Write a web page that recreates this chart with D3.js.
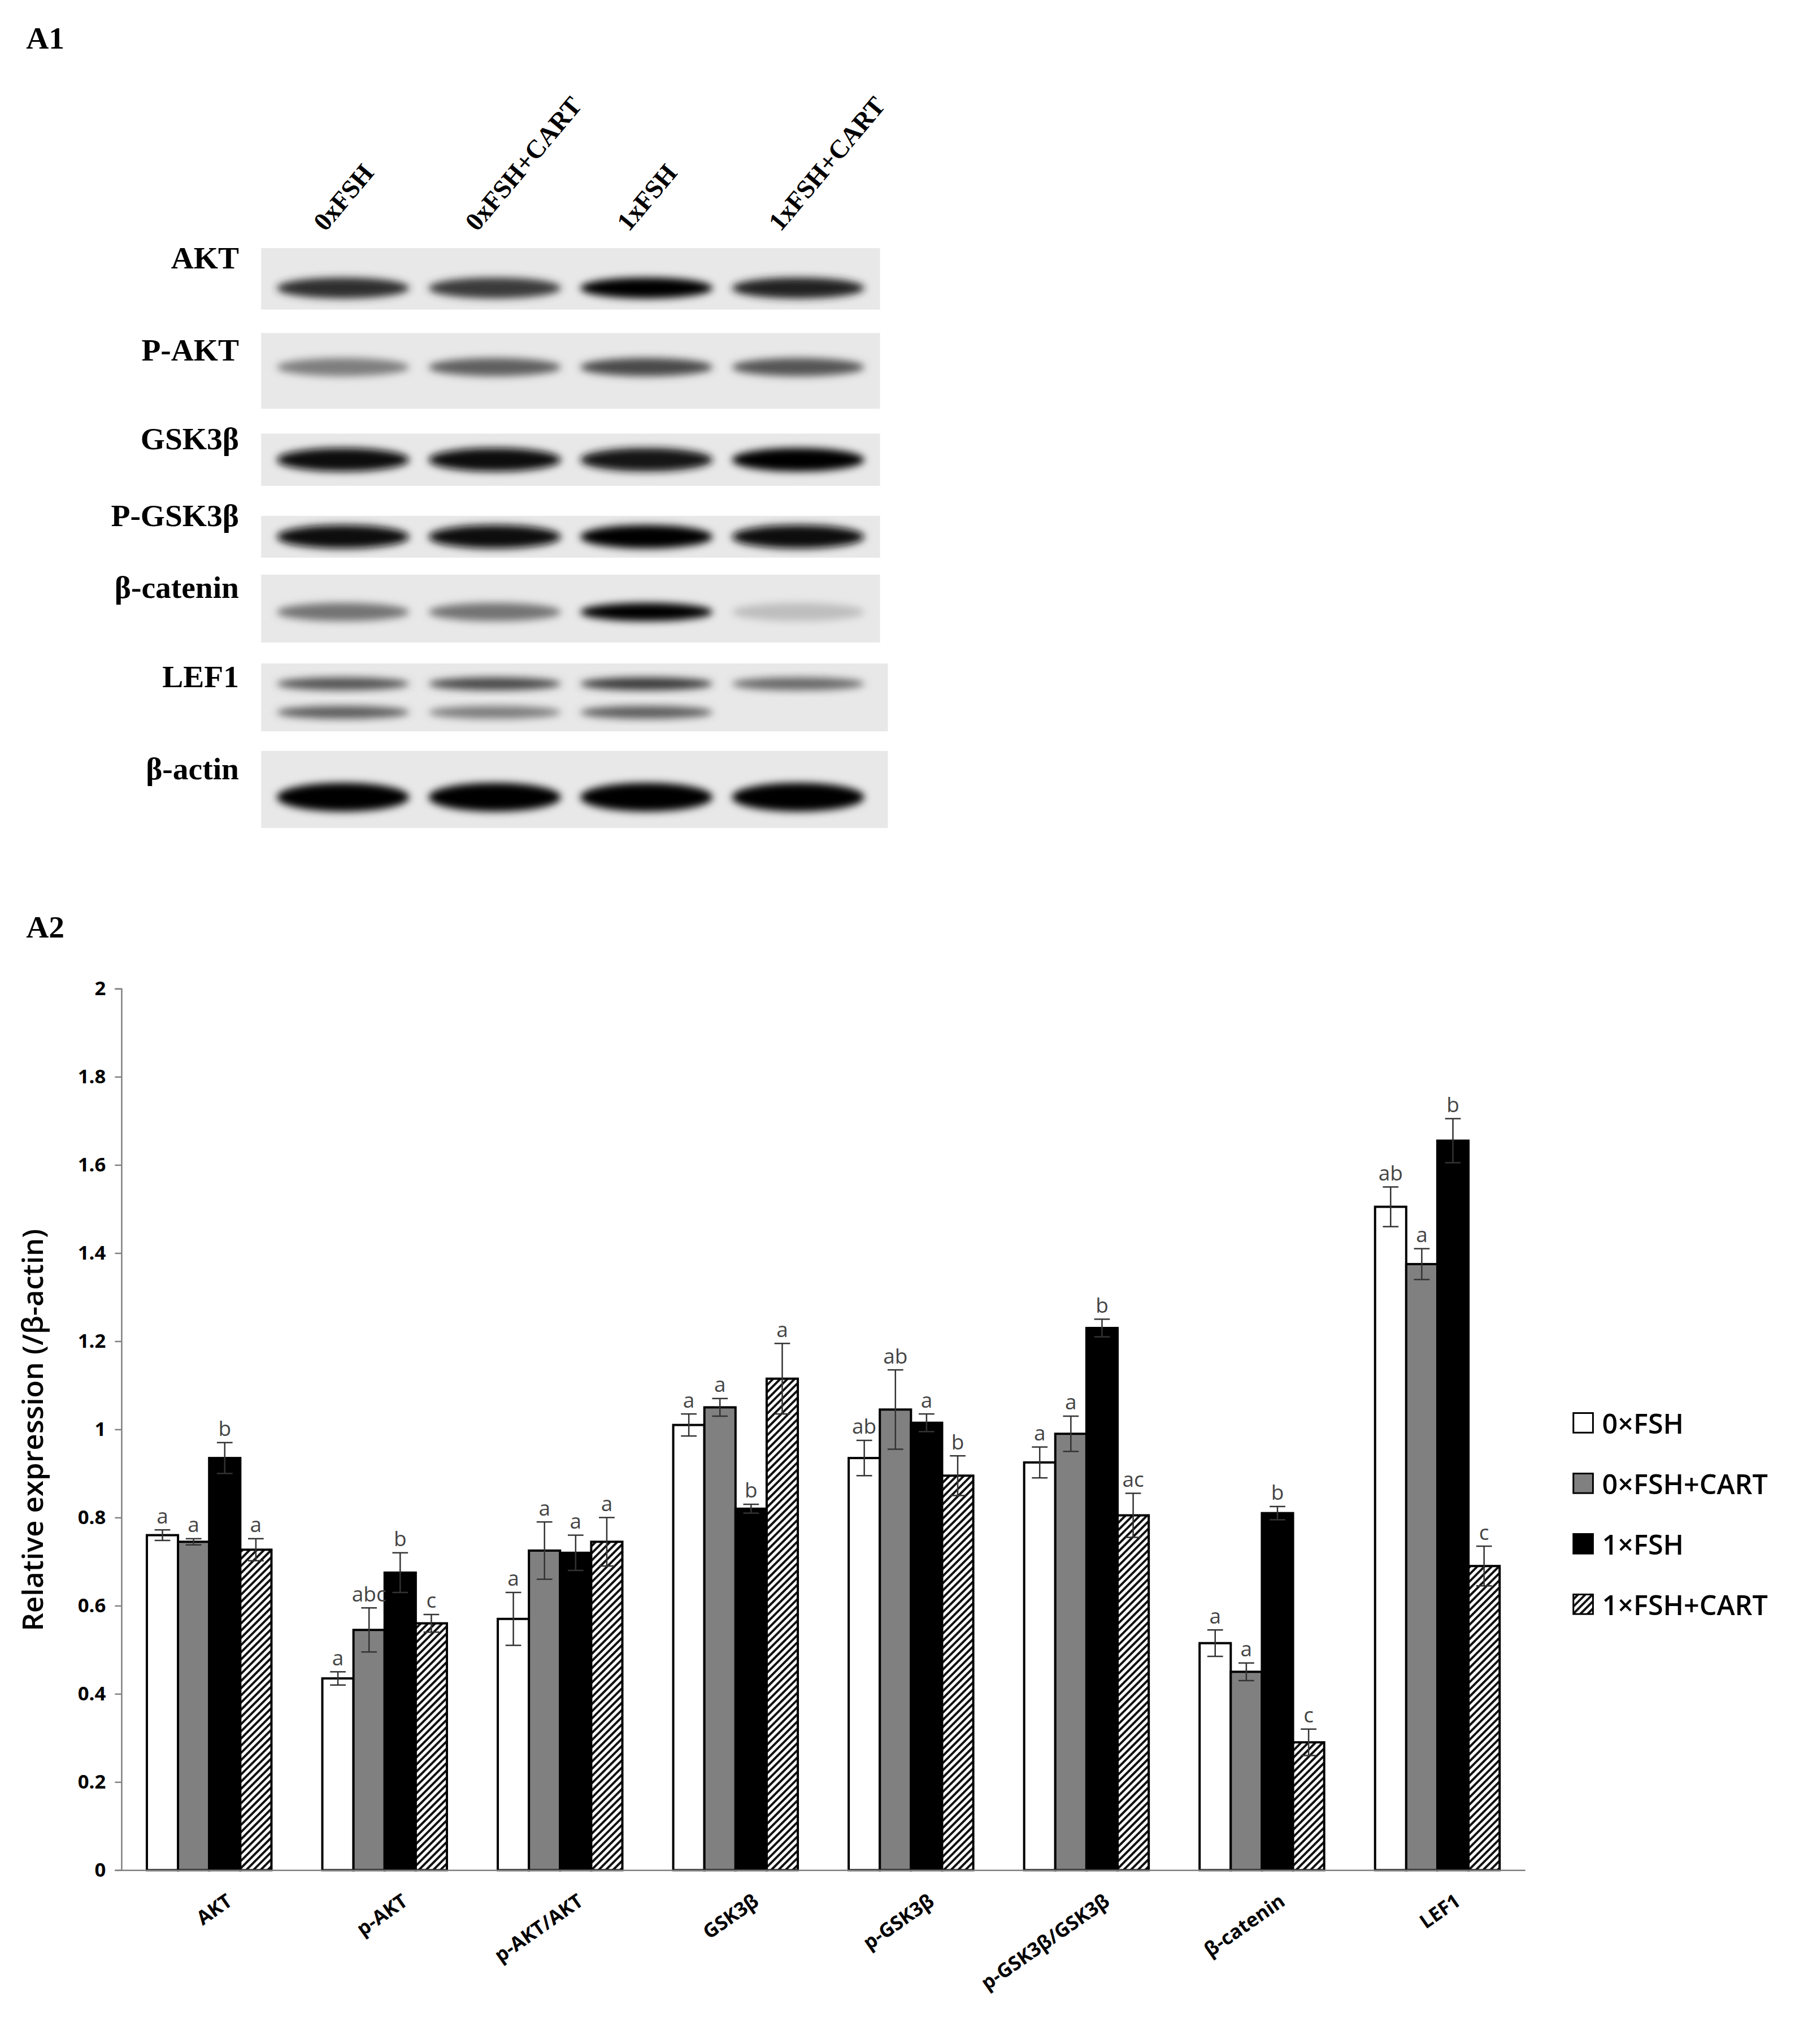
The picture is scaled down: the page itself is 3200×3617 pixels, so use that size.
<!DOCTYPE html>
<html>
<head>
<meta charset="utf-8">
<script src="https://cdn.jsdelivr.net/npm/d3@7"></script>
<style>
  body { margin: 0; background: #fff; }
  .serif { font-family: "Liberation Serif", "DejaVu Serif", serif; font-weight: bold; }
  .sans { font-family: "Open Sans", "Noto Sans", sans-serif; }
</style>
</head>
<body>
<div id="fig"></div>
<script>
(function () {
	'use strict';

	// ---- data ----
	var lanes = ['0xFSH', '0xFSH+CART', '1xFSH', '1xFSH+CART'];
	var blotRows = ['AKT', 'P-AKT', 'GSK3β', 'P-GSK3β', 'β-catenin', 'LEF1', 'β-actin'];
	// band darkness 0..1 per lane
	var bandAKT = [0.8, 0.75, 0.98, 0.85];
	var bandPAKT = [0.45, 0.6, 0.7, 0.65];
	var bandGSK = [0.95, 0.95, 0.9, 1.0];
	var bandPGSK = [0.95, 0.95, 0.98, 0.95];
	var bandCat = [0.5, 0.5, 1.0, 0.15];
	var bandLEFup = [0.65, 0.7, 0.75, 0.55];
	var bandLEFlow = [0.6, 0.45, 0.6, 0.0];
	var bandActin = [0.98, 0.98, 0.98, 1.0];

	var categories = ['AKT', 'p-AKT', 'p-AKT/AKT', 'GSK3β', 'p-GSK3β', 'p-GSK3β/GSK3β', 'β-catenin', 'LEF1'];
	var groups = ['0×FSH', '0×FSH+CART', '1×FSH', '1×FSH+CART'];
	var mean0 = [0.76, 0.435, 0.57, 1.01, 0.935, 0.925, 0.515, 1.505];
	var mean1 = [0.745, 0.545, 0.725, 1.05, 1.045, 0.99, 0.45, 1.375];
	var mean2 = [0.935, 0.675, 0.72, 0.82, 1.015, 1.23, 0.81, 1.655];
	var mean3 = [0.727, 0.56, 0.745, 1.115, 0.895, 0.805, 0.29, 0.69];
	var err0 = [0.012, 0.015, 0.06, 0.025, 0.04, 0.035, 0.03, 0.045];
	var err1 = [0.007, 0.05, 0.065, 0.02, 0.09, 0.04, 0.02, 0.035];
	var err2 = [0.035, 0.045, 0.04, 0.01, 0.02, 0.02, 0.015, 0.05];
	var err3 = [0.025, 0.02, 0.055, 0.08, 0.045, 0.05, 0.03, 0.045];
	var let0 = ['a', 'a', 'a', 'a', 'ab', 'a', 'a', 'ab'];
	var let1 = ['a', 'abc', 'a', 'a', 'ab', 'a', 'a', 'a'];
	var let2 = ['b', 'b', 'a', 'b', 'a', 'b', 'b', 'b'];
	var let3 = ['a', 'c', 'a', 'a', 'b', 'ac', 'c', 'c'];
	var yTicks = [0, 0.2, 0.4, 0.6, 0.8, 1, 1.2, 1.4, 1.6, 1.8, 2];

	var S = 2.311;
	var W = 3200, H = 3617;
	var svg = d3.select('#fig').append('svg').attr('width', W).attr('height', H);
	var defs = svg.append('defs');
	defs.append('filter').attr('id', 'blur').attr('x', '-20%').attr('y', '-50%').attr('width', '140%').attr('height', '200%')
		.append('feGaussianBlur').attr('stdDeviation', 7);
	var pat = defs.append('pattern').attr('id', 'hatch').attr('patternUnits', 'userSpaceOnUse')
		.attr('width', 9).attr('height', 9).attr('patternTransform', 'rotate(45)');
	pat.append('rect').attr('width', 9).attr('height', 9).attr('fill', '#fff');
	pat.append('rect').attr('width', 4).attr('height', 9).attr('fill', '#111');

	// ---- A1: blot ----
	svg.append('text').attr('class', 'serif').attr('x', 20 * S).attr('y', 37 * S)
		.attr('font-size', 24 * S).text('A1');

	var laneX = d3.scaleBand().domain(lanes).range([200 * S, 674 * S]).padding(0.08);
	var boxes = [[190, 237], [255, 313], [332, 372], [395, 427], [440, 492], [508, 560], [575, 634]];
	var bands = [[bandAKT], [bandPAKT], [bandGSK], [bandPGSK], [bandCat], [bandLEFup, bandLEFlow], [bandActin]];
	var bandY = [[0.65], [0.45], [0.5], [0.5], [0.55], [0.3, 0.72], [0.6]];
	var bandH = [[16], [14], [18], [18], [14], [10, 10], [22]];

	svg.append('g').selectAll('text').data(lanes).join('text')
		.attr('class', 'serif').attr('font-size', 20 * S)
		.attr('transform', function (d) { return 'translate(' + (laneX(d) + 40 * S) + ',' + (178 * S) + ') rotate(-50)'; })
		.text(function (d) { return d; });

	blotRows.forEach(function (name, i) {
		var y0 = boxes[i][0] * S, y1 = boxes[i][1] * S;
		var g = svg.append('g');
		g.append('rect').attr('x', 200 * S).attr('y', y0).attr('width', (i >= 5 ? 480 : 474) * S)
			.attr('height', y1 - y0).attr('fill', '#e8e8e8');
		bands[i].forEach(function (arr, k) {
			var cy = y0 + (y1 - y0) * bandY[i][k];
			g.selectAll('ellipse.b' + k).data(arr).join('ellipse')
				.attr('cx', function (d, j) { return laneX(lanes[j]) + laneX.bandwidth() / 2; })
				.attr('cy', cy)
				.attr('rx', laneX.bandwidth() / 2 * 0.95)
				.attr('ry', bandH[i][k] * S / 2)
				.attr('fill', function (d) { return d3.interpolateGreys(0.25 + 0.75 * d); })
				.attr('opacity', function (d) { return d === 0 ? 0 : 1; })
				.attr('filter', 'url(#blur)');
		});
		svg.append('text').attr('class', 'serif').attr('font-size', 24 * S)
			.attr('x', 183 * S).attr('y', (y0 + y1) / 2 - 8 * S).attr('text-anchor', 'end')
			.text(name);
	});

	// ---- A2: bar chart ----
	svg.append('text').attr('class', 'serif').attr('x', 20 * S).attr('y', 718 * S)
		.attr('font-size', 24 * S).text('A2');

	var left = 93 * S, right = 1168 * S, top = 757 * S, bottom = 1432 * S;
	var x = d3.scaleBand().domain(categories).range([left, right]).paddingInner(0.29).paddingOuter(0.145);
	var xs = d3.scaleBand().domain(d3.range(4)).range([0, x.bandwidth()]);
	var y = d3.scaleLinear().domain([0, 2]).range([bottom, top]);

	var yAxis = svg.append('g').attr('transform', 'translate(' + left + ',0)')
		.call(d3.axisLeft(y).tickValues(yTicks).tickSize(5 * S).tickFormat(function (d) { return String(d); }));
	yAxis.select('.domain').attr('stroke', '#808080').attr('stroke-width', 2.5);
	yAxis.selectAll('.tick line').attr('stroke', '#808080').attr('stroke-width', 2.5);
	yAxis.selectAll('.tick text').attr('class', 'sans').attr('font-size', 15 * S).attr('font-weight', 'bold')
		.attr('fill', '#000').attr('x', -12 * S);

	svg.append('text').attr('class', 'sans').attr('font-size', 22 * S).attr('font-weight', 600)
		.attr('transform', 'translate(' + (33 * S) + ',' + (1095 * S) + ') rotate(-90)')
		.attr('text-anchor', 'middle').text('Relative expression (/β-actin)');

	var means = [mean0, mean1, mean2, mean3];
	var errs = [err0, err1, err2, err3];
	var lets = [let0, let1, let2, let3];
	var fills = ['#fff', '#808080', '#000', 'url(#hatch)'];

	var rows = [];
	categories.forEach(function (c, ci) {
		for (var s = 0; s < 4; s++) {
			rows.push({ c: c, s: s, v: means[s][ci], e: errs[s][ci], l: lets[s][ci] });
		}
	});
	var bx = function (d) { return x(d.c) + xs(d.s); };

	svg.append('g').selectAll('rect').data(rows).join('rect')
		.attr('x', bx).attr('y', function (d) { return y(d.v); })
		.attr('width', xs.bandwidth()).attr('height', function (d) { return bottom - y(d.v); })
		.attr('fill', function (d) { return fills[d.s]; })
		.attr('stroke', '#000').attr('stroke-width', 4);

	var eb = svg.append('g').attr('stroke', '#333').attr('stroke-width', 2.5);
	var cx = function (d) { return bx(d) + xs.bandwidth() / 2; };
	eb.selectAll('line.v').data(rows).join('line').attr('class', 'v')
		.attr('x1', cx).attr('x2', cx)
		.attr('y1', function (d) { return y(d.v - d.e); }).attr('y2', function (d) { return y(d.v + d.e); });
	[1, -1].forEach(function (sg, k) {
		eb.selectAll('line.c' + k).data(rows).join('line').attr('class', 'c' + k)
			.attr('x1', function (d) { return cx(d) - 6 * S; }).attr('x2', function (d) { return cx(d) + 6 * S; })
			.attr('y1', function (d) { return y(d.v + sg * d.e); }).attr('y2', function (d) { return y(d.v + sg * d.e); });
	});

	svg.append('g').selectAll('text').data(rows).join('text')
		.attr('class', 'sans').attr('font-size', 16 * S).attr('fill', '#444').attr('text-anchor', 'middle')
		.attr('x', cx).attr('y', function (d) { return y(d.v + d.e) - 5 * S; })
		.text(function (d) { return d.l; });

	var xAxis = svg.append('g').attr('transform', 'translate(0,' + bottom + ')')
		.call(d3.axisBottom(x).tickSize(0));
	xAxis.select('.domain').attr('stroke', '#808080').attr('stroke-width', 2.5);
	xAxis.selectAll('.tick text').attr('class', 'sans').attr('font-size', 15 * S).attr('font-weight', 'bold')
		.attr('fill', '#000').attr('text-anchor', 'end').attr('dy', 0)
		.attr('transform', 'translate(' + (18 * S) + ',' + (25 * S) + ') rotate(-35)');

	// legend
	var lg = svg.append('g').selectAll('g').data(groups).join('g')
		.attr('transform', function (d, i) { return 'translate(' + (1205 * S) + ',' + ((1090 + i * 46.3) * S) + ')'; });
	lg.append('rect').attr('x', 0).attr('y', -8 * S).attr('width', 15 * S).attr('height', 15 * S)
		.attr('fill', function (d, i) { return fills[i]; }).attr('stroke', '#000').attr('stroke-width', 3);
	lg.append('text').attr('class', 'sans').attr('font-size', 21 * S).attr('font-weight', 600)
		.attr('x', 22 * S).attr('y', 8 * S).text(function (d) { return d; });
})();
</script>
</body>
</html>
